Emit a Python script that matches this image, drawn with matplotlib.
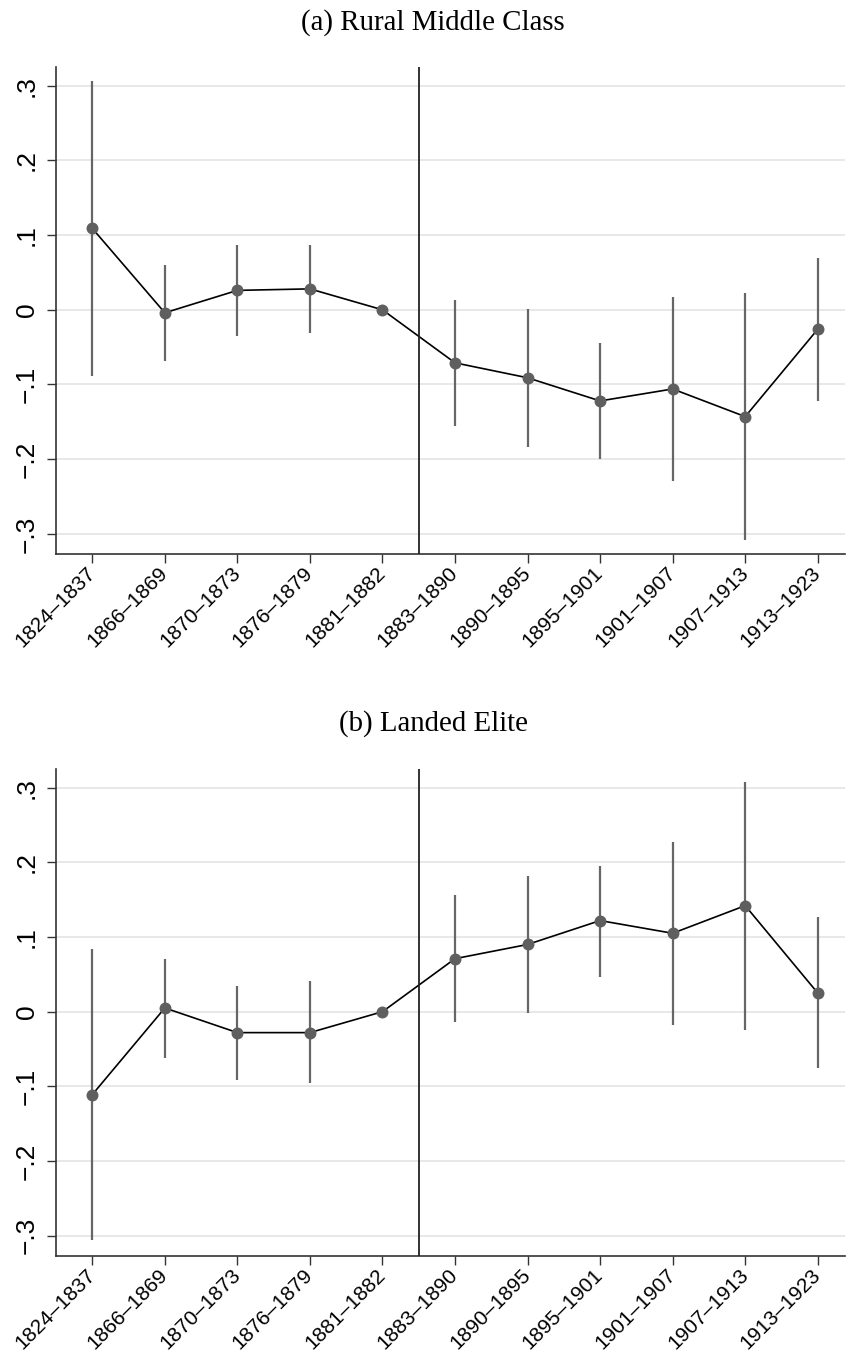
import numpy as np
import matplotlib.pyplot as plt
import matplotlib.transforms as mtransforms
from matplotlib.ticker import FuncFormatter

periods = ['1824–1837', '1866–1869', '1870–1873', '1876–1879', '1881–1882', '1883–1890',
           '1890–1895', '1895–1901', '1901–1907', '1907–1913', '1913–1923']

# (a) rural middle class
rmc_coef = [0.109, -0.004, 0.026, 0.028, 0.0, -0.071, -0.091, -0.122, -0.106, -0.143, -0.026]
rmc_lo = [-0.088, -0.069, -0.035, -0.031, 0.0, -0.155, -0.184, -0.200, -0.229, -0.308, -0.122]
rmc_hi = [0.306, 0.060, 0.087, 0.087, 0.0, 0.013, 0.001, -0.045, 0.017, 0.022, 0.070]

# (b) landed elite
le_coef = [-0.111, 0.005, -0.028, -0.028, 0.0, 0.071, 0.090, 0.122, 0.105, 0.142, 0.025]
le_lo = [-0.306, -0.062, -0.091, -0.096, 0.0, -0.014, -0.002, 0.047, -0.018, -0.024, -0.076]
le_hi = [0.084, 0.071, 0.035, 0.041, 0.0, 0.156, 0.182, 0.195, 0.227, 0.308, 0.127]

yticks = [-0.3, -0.2, -0.1, 0, 0.1, 0.2, 0.3]
titles = ['(a) Rural Middle Class', '(b) Landed Elite']
break_pos = 4.5

def ylab(v, pos):
    if abs(v) < 1e-9:
        return '0'
    s = ('%.1f' % abs(v)).lstrip('0')
    return ('\u2212' + s) if v < 0 else s

fig = plt.figure(figsize=(8.46, 13.54), dpi=100)
boxes = [[0.0662, 0.5908, 0.933, 0.3597], [0.0662, 0.0724, 0.933, 0.3597]]
series = [(rmc_coef, rmc_lo, rmc_hi), (le_coef, le_lo, le_hi)]
title_y = [1 - 23 / 1354, 1 - 724 / 1354]

spine_col = '#333333'
x = np.arange(len(periods))
shift = mtransforms.ScaledTranslation(6 / 100, 0, fig.dpi_scale_trans)
for box, (coef, lo, hi), title, ty in zip(boxes, series, titles, title_y):
    ax = fig.add_axes(box)
    ax.vlines(x, lo, hi, color='#666666', linewidth=1.6, zorder=2)
    ax.plot(x, coef, color='black', linewidth=1.2, zorder=3)
    ax.plot(x, coef, 'o', color='#5f5f5f', markersize=8.6, markeredgewidth=0, zorder=4)
    ax.axvline(break_pos, color='#222222', linewidth=1.3, zorder=3)
    ax.set_xlim(-0.5, 10.38)
    ax.set_ylim(-0.327, 0.325)
    ax.set_yticks(yticks)
    ax.yaxis.set_major_formatter(FuncFormatter(ylab))
    ax.yaxis.grid(True, color='#e6e6e6', linewidth=1.3, zorder=0)
    ax.set_axisbelow(True)
    ax.set_xticks(x)
    ax.set_xticklabels(periods, rotation=45, ha='right', va='center', rotation_mode='anchor',
                       family='Liberation Sans', fontsize=15)
    for lab in ax.get_xticklabels():
        lab.set_transform(lab.get_transform() + shift)
    for lab in ax.get_yticklabels():
        lab.set_rotation(90)
        lab.set_va('center')
        lab.set_family('Liberation Sans')
        lab.set_fontsize(19)
    ax.tick_params(axis='both', length=6.5, width=1.0, color=spine_col)
    ax.tick_params(axis='y', pad=6)
    ax.tick_params(axis='x', pad=5)
    for side in ['top', 'right']:
        ax.spines[side].set_visible(False)
    for side in ['left', 'bottom']:
        ax.spines[side].set_color(spine_col)
        ax.spines[side].set_linewidth(1.2)
    fig.text(433 / 846, ty, title, ha='center', va='center', family='Liberation Serif', fontsize=20.8)

fig.savefig('out.png', dpi=100)
